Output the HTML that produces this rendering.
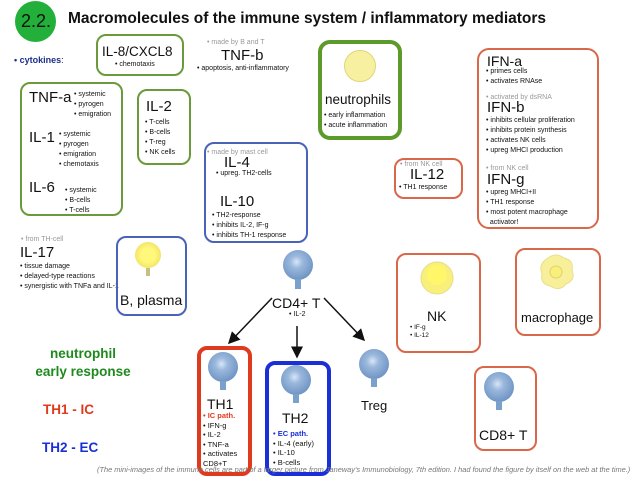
<!DOCTYPE html>
<html><head><meta charset="utf-8"><style>
*{margin:0;padding:0;box-sizing:border-box}
body{width:638px;height:479px;background:#fff;position:relative;overflow:hidden;font-family:"Liberation Sans",sans-serif;color:#111}
.a{position:absolute;white-space:nowrap}
.box{position:absolute;border-radius:10px}
.g{border:2px solid #6a9a3a}
.b{border:2px solid #4a63b8}
.r{border:2px solid #d9674a}
.s{font-size:7px;line-height:10px}
.gr{color:#999}
.h{font-size:15px;line-height:16px}
</style></head><body>
<div class="a" style="left:15px;top:1px;width:41px;height:41px;border-radius:50%;background:#22b03a"></div>
<div class="a" style="left:18px;top:11px;font-size:18px;width:36px;text-align:center">2.2.</div>
<div class="a" style="left:68px;top:10px;font-size:15.5px;font-weight:bold">Macromolecules of the immune system / inflammatory mediators</div>

<div class="a" style="left:14px;top:55px;font-size:9px;font-weight:bold;color:#1d2f8c">• cytokines<span style="color:#111;font-weight:normal">:</span></div>

<div class="box g" style="left:96px;top:34px;width:88px;height:42px"></div>
<div class="a" style="left:102px;top:44px;font-size:13.5px">IL-8/CXCL8</div>
<div class="a s" style="left:115px;top:60px">• chemotaxis</div>

<div class="a s gr" style="left:207px;top:38px">• made by B and T</div>
<div class="a h" style="left:221px;top:48px">TNF-b</div>
<div class="a s" style="left:197px;top:64px">• apoptosis, anti-inflammatory</div>

<div class="box g" style="left:20px;top:82px;width:103px;height:134px"></div>
<div class="a h" style="left:29px;top:90px">TNF-a</div>
<div class="a s" style="left:74px;top:90px">• systemic<br>• pyrogen<br>• emigration</div>
<div class="a h" style="left:29px;top:130px">IL-1</div>
<div class="a s" style="left:59px;top:130px">• systemic<br>• pyrogen<br>• emigration<br>• chemotaxis</div>
<div class="a h" style="left:29px;top:180px">IL-6</div>
<div class="a s" style="left:65px;top:186px">• systemic<br>• B-cells<br>• T-cells</div>

<div class="box g" style="left:137px;top:89px;width:54px;height:76px"></div>
<div class="a h" style="left:146px;top:99px">IL-2</div>
<div class="a s" style="left:145px;top:118px">• T-cells<br>• B-cells<br>• T-reg<br>• NK cells</div>

<div class="box b" style="left:204px;top:142px;width:104px;height:101px"></div>
<div class="a s gr" style="left:207px;top:148px">• made by mast cell</div>
<div class="a h" style="left:224px;top:155px">IL-4</div>
<div class="a s" style="left:216px;top:169px">• upreg. TH2-cells</div>
<div class="a h" style="left:220px;top:194px">IL-10</div>
<div class="a s" style="left:212px;top:211px">• TH2-response<br>• inhibits IL-2, IF-g<br>• inhibits TH-1 response</div>

<div class="box" style="left:318px;top:40px;width:84px;height:100px;border:4px solid #5c9a2c;border-radius:12px"></div>
<div class="a" style="left:344px;top:50px;width:32px;height:32px;border-radius:50%;background:#f7f0a0;border:1px solid #e0d57a"></div>
<div class="a" style="left:325px;top:92px;font-size:13.5px">neutrophils</div>
<div class="a s" style="left:324px;top:111px">• early inflammation<br>• acute inflammation</div>

<div class="box r" style="left:477px;top:48px;width:122px;height:181px;border-radius:12px"></div>
<div class="a" style="left:487px;top:54px;font-size:14px;line-height:14px">IFN-a</div>
<div class="a s" style="left:486px;top:67px">• primes cells<br>• activates RNAse</div>
<div class="a s gr" style="left:486px;top:93px">• activated by dsRNA</div>
<div class="a h" style="left:487px;top:100px">IFN-b</div>
<div class="a s" style="left:486px;top:116px">• inhibits cellular proliferation<br>• inhibits protein synthesis<br>• activates NK cells<br>• upreg MHCI production</div>
<div class="a s gr" style="left:486px;top:164px">• from NK cell</div>
<div class="a h" style="left:487px;top:172px">IFN-g</div>
<div class="a s" style="left:486px;top:188px">• upreg MHCI+II<br>• TH1 response<br>• most potent macrophage<br>&nbsp;&nbsp;activator!</div>

<div class="box r" style="left:394px;top:158px;width:69px;height:41px"></div>
<div class="a s gr" style="left:400px;top:160px">• from NK cell</div>
<div class="a h" style="left:410px;top:167px">IL-12</div>
<div class="a s" style="left:399px;top:183px">• TH1 response</div>

<div class="a s gr" style="left:21px;top:235px">• from TH-cell</div>
<div class="a h" style="left:20px;top:245px">IL-17</div>
<div class="a s" style="left:20px;top:262px">• tissue damage<br>• delayed-type reactions<br>• synergistic with TNFa and IL-1</div>

<div class="box b" style="left:116px;top:236px;width:71px;height:80px"></div>
<div class="a" style="left:135px;top:242px;width:26px;height:26px;border-radius:50%;background:radial-gradient(circle,#fff87a 40%,#f3e56a 70%,#e4d77f);"></div>
<div class="a" style="left:146px;top:268px;width:4px;height:8px;background:#c9c080"></div>
<div class="a" style="left:120px;top:292px;font-size:14px">B, plasma</div>

<svg class="a" style="left:0;top:0" width="638" height="479">
<defs><marker id="m" markerWidth="8" markerHeight="8" refX="7" refY="4" orient="auto"><path d="M0,0L8,4L0,8z" fill="#111"/></marker>
<radialGradient id="c" cx="0.45" cy="0.4" r="0.6"><stop offset="0" stop-color="#d8e6f6"/><stop offset="0.35" stop-color="#9ab8dc"/><stop offset="1" stop-color="#6f94c4"/></radialGradient></defs>
<line x1="272" y1="298" x2="229" y2="343" stroke="#111" stroke-width="1.5" marker-end="url(#m)"/>
<line x1="297" y1="326" x2="297" y2="357" stroke="#111" stroke-width="1.5" marker-end="url(#m)"/>
<line x1="324" y1="298" x2="364" y2="340" stroke="#111" stroke-width="1.5" marker-end="url(#m)"/>
<g fill="url(#c)">
<circle cx="298" cy="265" r="15"/><rect x="295" y="279" width="6" height="10" fill="#7aa0cc"/>
<circle cx="223" cy="367" r="15"/><rect x="220" y="381" width="6" height="9" fill="#7aa0cc"/>
<circle cx="296" cy="380" r="15"/><rect x="293" y="394" width="6" height="9" fill="#7aa0cc"/>
<circle cx="374" cy="364" r="15"/><rect x="371" y="378" width="6" height="9" fill="#7aa0cc"/>
<circle cx="499" cy="387" r="15"/><rect x="496" y="401" width="6" height="9" fill="#7aa0cc"/>
</g>
<circle cx="437" cy="278" r="16" fill="#f8f07a" stroke="#e6dc8a"/>
<circle cx="437" cy="275" r="10" fill="#fff66a"/>
<path d="M548,258 q8,-6 16,0 q10,2 8,12 q4,10 -6,14 q-6,8 -16,2 q-10,-2 -8,-12 q-4,-10 6,-16z" fill="#f7ef9a" stroke="#e8df8a"/>
<circle cx="556" cy="272" r="6" fill="#f8f07a" stroke="#e0d070"/>
</svg>

<div class="a" style="left:272px;top:295px;font-size:14px">CD4+ T</div>
<div class="a s" style="left:289px;top:310px">• IL-2</div>

<div class="box r" style="left:396px;top:253px;width:85px;height:100px"></div>
<div class="a" style="left:427px;top:308px;font-size:14px">NK</div>
<div class="a s" style="left:410px;top:324px;font-size:6.5px;line-height:8px">• IF-g<br>• IL-12</div>

<div class="box r" style="left:515px;top:248px;width:86px;height:88px"></div>
<div class="a" style="left:521px;top:310px;font-size:13px">macrophage</div>

<div class="box r" style="left:474px;top:366px;width:63px;height:85px"></div>
<div class="a" style="left:479px;top:427px;font-size:14px">CD8+ T</div>

<div class="a" style="left:361px;top:398px;font-size:13px">Treg</div>

<div class="box" style="left:197px;top:346px;width:55px;height:130px;border:4px solid #e03a1e;border-radius:10px"></div>
<div class="a" style="left:207px;top:396px;font-size:14px">TH1</div>
<div class="a s" style="left:203px;top:411px;font-size:7.5px;line-height:9.5px"><b style="color:#e03a1e">• IC path.</b><br>• IFN-g<br>• IL-2<br>• TNF-a<br>• activates<br>CD8+T</div>

<div class="box" style="left:265px;top:361px;width:66px;height:115px;border:4px solid #1a2fd8;border-radius:10px"></div>
<div class="a" style="left:282px;top:410px;font-size:14px">TH2</div>
<div class="a s" style="left:273px;top:429px;font-size:7.5px;line-height:9.5px"><b style="color:#1a2fd8">• EC path.</b><br>• IL-4 (early)<br>• IL-10<br>• B-cells</div>

<div class="a" style="left:0;top:345px;width:166px;text-align:center;font-size:13.5px;font-weight:bold;color:#1e8a1e;line-height:18px">neutrophil<br>early response</div>
<div class="a" style="left:43px;top:402px;font-size:13.5px;font-weight:bold;color:#e03a1e">TH1 - IC</div>
<div class="a" style="left:42px;top:440px;font-size:13.5px;font-weight:bold;color:#1a2fd8">TH2 - EC</div>

<div class="a" style="left:97px;top:465px;font-size:7.4px;font-style:italic;color:#777">(The mini-images of the immune cells are part of a larger picture from Janeway's Immunobiology, 7th edition. I had found the figure by itself on the web at the time.)</div>
</body></html>
